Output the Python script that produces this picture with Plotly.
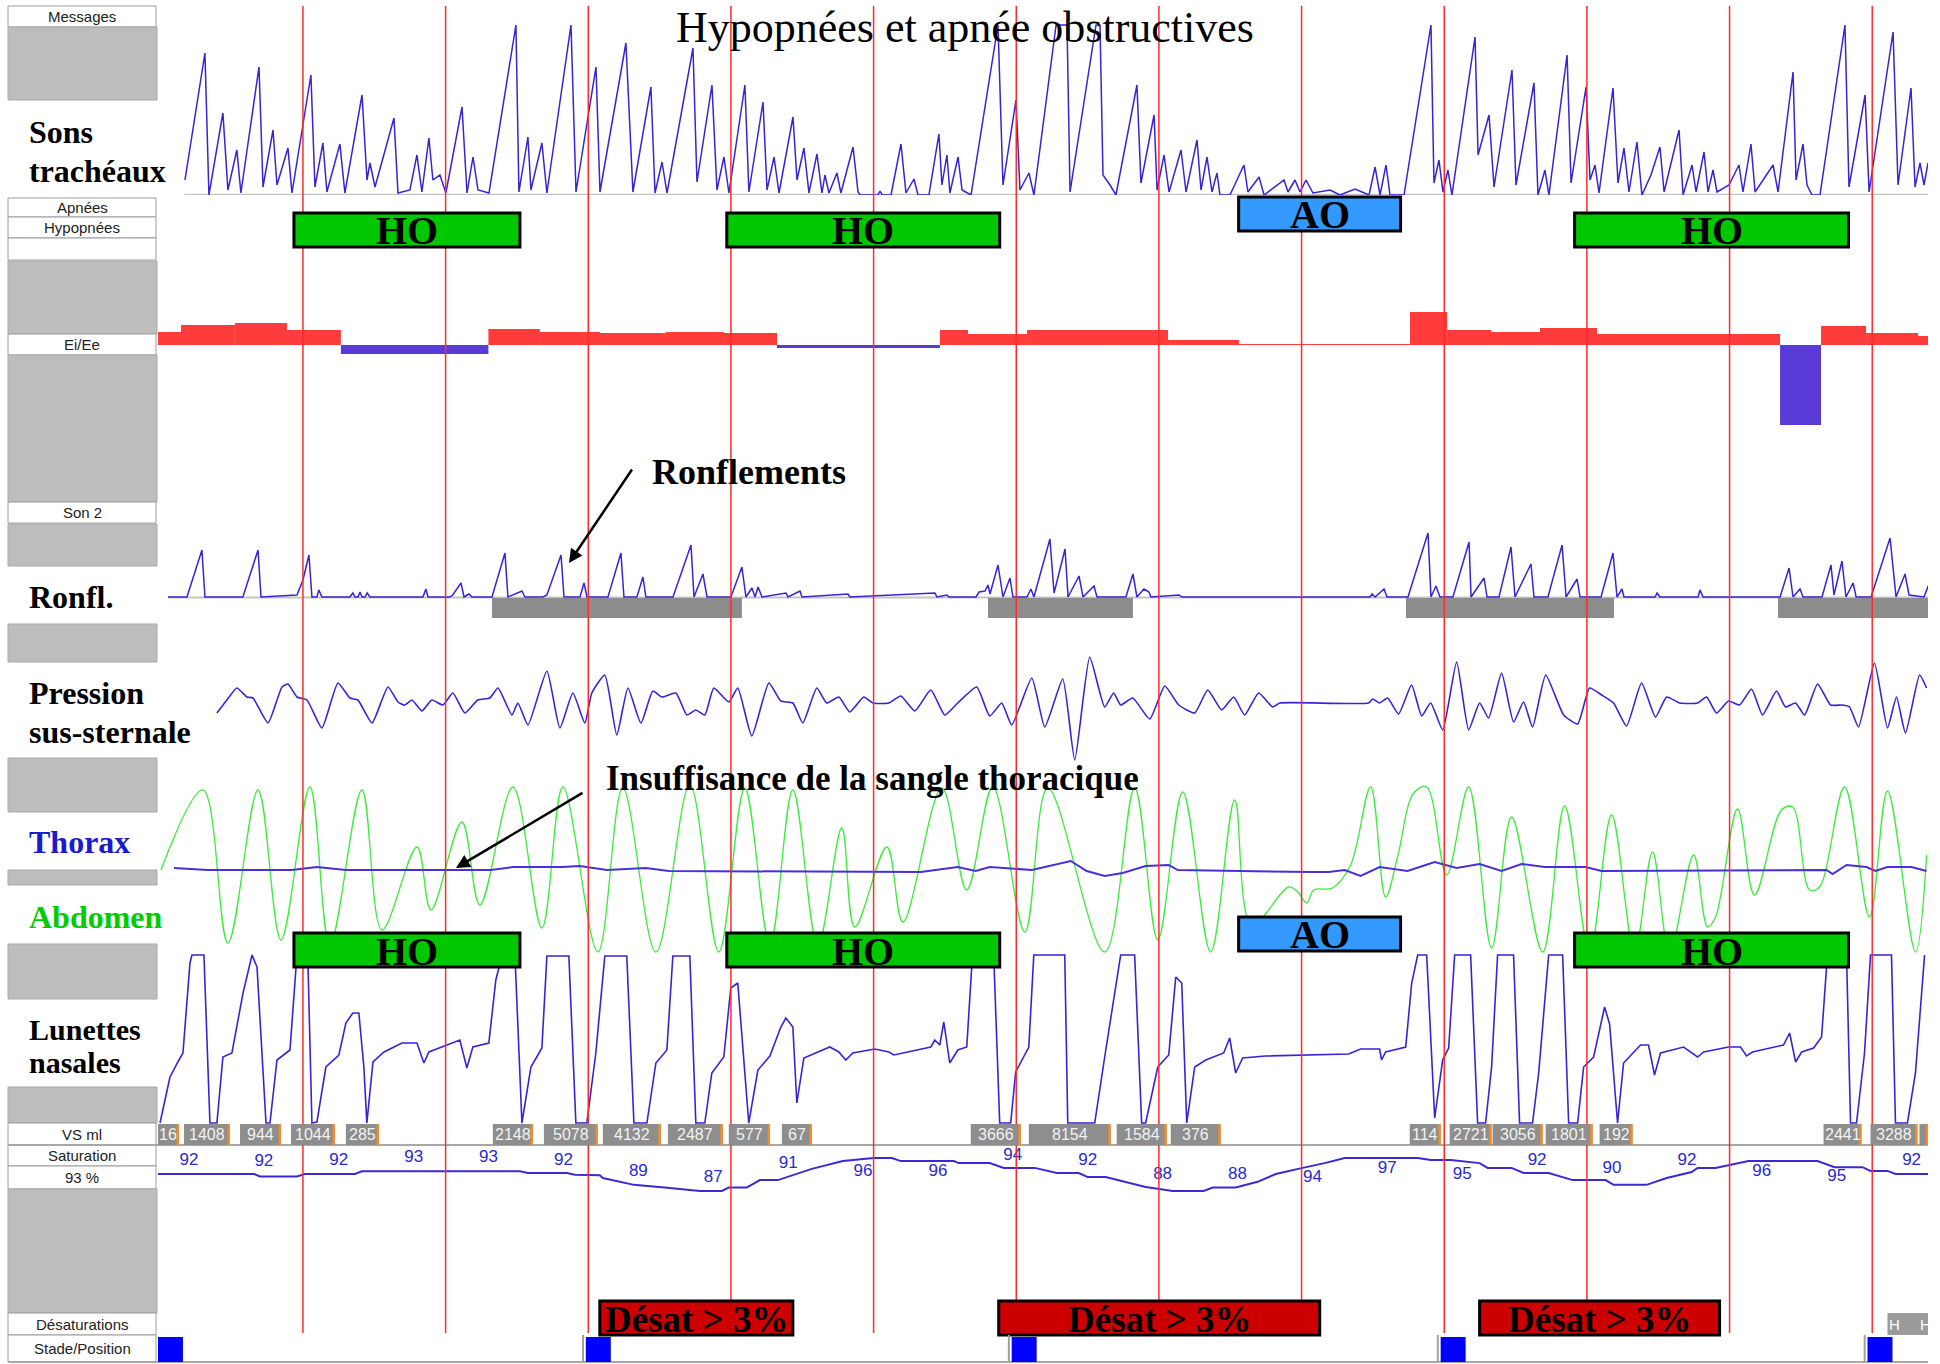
import plotly.graph_objects as go

W, H = 1940, 1364

# ------------------------------------------------------------------ data
# time axis in seconds; red epoch markers every 10 s
epoch_lines = [0, 10, 20, 30, 40, 50, 60, 70, 80, 90, 100, 110]
X_RANGE = [-10.16, 113.91]

# Sons trachéaux (arbitrary amplitude)
sons = [(-8.27,15),(-6.87,142),(-6.59,0),(-5.61,82),(-5.26,5),(-4.63,45),(-4.35,2),(-3.08,128),(-2.80,8),
        (-2.10,65),(-1.82,10),(-1.05,47),(-0.77,2),(0.56,120),(0.84,8),(1.40,52),(1.68,3),(2.59,51),(2.94,2),
        (4.14,100),(4.49,15),(4.70,32),(5.05,8),(6.38,77),(6.66,2),(7.50,5),(7.99,40),(8.34,3),(8.83,57),
        (9.11,15),(9.60,20),(10.02,2),(11.15,88),(11.50,2),(11.92,38),(12.27,5),(13.04,2),(14.93,170),
        (15.14,3),(15.77,58),(15.98,5),(16.75,52),(17.10,2),(18.79,170),(19.14,3),(20.54,128),(20.82,3),
        (22.64,152),(23.13,3),(24.39,108),(24.68,2),(25.17,33),(25.52,2),(27.34,147),(27.62,13),(28.67,110),
        (29.02,5),(29.51,38),(29.86,2),(30.98,110),(31.26,3),(32.25,93),(32.53,5),(33.02,38),(33.37,2),
        (34.35,78),(34.63,15),(35.12,47),(35.47,2),(36.03,41),(36.38,2),(36.59,20),(36.87,2),(37.43,22),
        (37.71,2),(38.56,48),(38.91,3),(39.05,0),(40.30,0),(40.45,4),(40.60,0),(41.22,0),(41.92,51),(42.27,2),
        (42.83,16),(43.11,0),(43.88,0),(44.58,61),(44.79,10),(45.14,40),(45.35,2),(45.92,38),(46.20,5),
        (46.83,0),(48.72,170),(49.07,10),(49.98,95),(50.26,5),(50.89,22),(51.24,0),(52.79,170),(53.56,170),
        (53.77,3),(55.59,170),(55.87,170),(56.08,20),(56.57,10),(56.99,0),(58.46,110),(58.74,12),(59.66,80),
        (59.87,5),(60.36,40),(60.71,3),(61.55,45),(61.90,3),(62.67,55),(62.95,5),(63.37,38),(63.72,3),
        (64.07,22),(64.28,0),(64.98,0),(65.96,30),(66.24,3),(67.02,18),(67.37,0),(68.77,15),(69.05,3),
        (69.54,15),(69.89,3),(70.31,15),(70.80,2),(71.99,5),(72.69,0),(73.75,6),(74.73,0),(75.15,28),
        (75.50,0),(75.92,30),(76.20,0),(77.18,0),(79.07,170),(79.28,12),(79.63,35),(79.91,3),(80.26,25),
        (80.54,0),(82.16,158),(82.37,40),(83.14,80),(83.49,8),(84.75,125),(85.03,10),(86.29,112),(86.57,0),
        (87.06,25),(87.34,0),(88.61,140),(88.89,12),(89.94,108),(90.22,15),(90.57,30),(90.85,2),(91.83,107),
        (92.18,12),(92.60,47),(92.95,3),(93.51,53),(93.86,0),(94.49,20),(95.12,48),(95.41,3),(96.46,65),
        (96.74,0),(97.37,30),(97.65,3),(98.21,43),(98.49,3),(98.84,25),(99.12,3),(99.96,10),(100.66,30),
        (100.94,3),(101.50,51),(101.79,3),(103.05,30),(103.40,3),(104.45,123),(104.66,15),(105.15,51),
        (105.43,10),(105.78,0),(106.34,0),(108.09,170),(108.37,8),(109.50,100),(109.78,3),(111.46,163),
        (111.81,10),(112.72,107),(113.00,8),(113.35,32),(113.63,10),(113.91,32)]

# Ei/Ee (segment start, value); each segment ends where the next begins
ei_ee_start = [-10.16,-8.55,-4.77,-1.12,2.66,13.0,16.61,20.82,25.45,29.51,33.23,44.65,46.62,50.75,
               56.85,60.64,65.61,77.60,80.20,83.28,86.71,90.71,103.54,106.41,109.57,113.21]
ei_ee_val = [13,20,22,15,-9,16,13,12,13,12,-3,15,11,15,15,5,1,33,15,13,17,11,-80,19,12,9]
ei_ee_stop = 113.91

# Ronflements (Son 2)
ronfl = [(-9.46,0),(-8.13,0),(-7.08,47),(-6.87,0),(-4.21,0),(-3.15,47),(-2.94,0),(-0.42,2),(0.0,17),
         (0.42,42),(0.63,0),(0.98,0),(1.12,7),(1.33,0),(3.29,0),(3.50,4),(3.65,0),(3.86,0),(4.00,5),(4.14,0),
         (4.35,0),(4.50,4),(4.70,0),(8.41,0),(8.62,8),(8.76,0),(10.30,0),(10.50,2),(11.08,14),(11.29,0),
         (11.64,3),(11.85,0),(13.25,0),(14.16,44),(14.37,0),(15.35,6),(15.56,0),(16.82,0),(17.10,2),
         (18.09,42),(18.30,0),(19.42,0),(19.70,14),(19.91,0),(21.38,0),(22.29,44),(22.50,0),(23.41,0),
         (23.83,20),(24.04,0),(25.94,0),(27.20,52),(27.41,0),(28.04,23),(28.32,0),(30.00,0),(30.77,30),
         (31.05,0),(31.47,9),(31.69,0),(31.90,10),(32.18,0),(33.86,4),(34.00,0),(34.84,6),(34.98,0),
         (38.20,3),(38.34,0),(44.30,4),(44.44,0),(45.14,2),(45.28,0),(47.18,0),(47.39,5),(47.81,6),
         (48.02,12),(48.16,3),(48.72,32),(49.07,0),(49.56,19),(49.77,0),(50.75,0),(51.03,8),(51.24,0),
         (52.36,58),(52.65,4),(53.42,48),(53.63,0),(54.40,21),(54.68,0),(55.45,11),(55.66,0),(57.69,0),
         (58.18,23),(58.46,0),(58.95,8),(59.30,5),(59.44,0),(61.41,2),(61.62,0),(74.80,0),(74.94,3),
         (75.15,0),(75.78,8),(75.99,0),(77.46,0),(78.86,64),(79.07,0),(79.42,11),(79.70,0),(80.61,0),
         (81.74,55),(81.88,0),(82.79,19),(83.00,0),(83.84,0),(84.68,50),(84.96,0),(86.08,33),(86.29,0),
         (87.27,0),(88.26,52),(88.54,0),(89.31,18),(89.52,0),(90.99,0),(91.83,44),(92.11,0),(92.46,8),
         (92.60,0),(94.78,0),(94.92,4),(95.12,0),(97.79,0),(97.93,7),(98.14,0),(103.54,0),(104.17,29),
         (104.45,0),(104.94,8),(105.15,0),(106.48,0),(107.11,32),(107.32,2),(107.88,36),(108.16,0),
         (108.66,14),(108.87,0),(109.92,0),(111.25,59),(111.67,0),(112.30,23),(112.58,2),(113.63,0),
         (113.98,13)]

# snoring episodes
snore_start = [13.25, 48.02, 77.32, 103.40]
snore_end = [30.77, 58.18, 91.90, 113.91]

# Pression sus-sternale
pression = [(-6.03,-10),(-5.33,3),(-4.63,15),(-3.92,6),(-3.50,5),(-2.45,-20),(-1.47,16),(-1.05,19),
            (-0.42,6),(0.28,3),(1.33,-25),(2.45,20),(3.29,5),(3.85,3),(4.84,-20),(5.96,16),(6.66,1),
            (7.15,-2),(7.64,3),(8.34,-8),(9.04,3),(9.81,-2),(10.51,10),(11.35,-10),(12.26,3),(13.10,5),
            (13.67,15),(14.65,-12),(15.07,0),(15.77,-22),(17.10,32),(18.01,-25),(18.92,10),(19.76,-20),
            (20.25,10),(21.16,28),(22.00,-32),(22.78,15),(23.69,-20),(24.53,12),(25.16,6),(26.14,10),
            (26.91,-12),(27.54,-7),(28.17,-12),(28.80,15),(29.85,1),(30.48,15),(31.46,-33),(32.66,20),
            (33.50,2),(34.34,0),(35.04,-20),(36.02,15),(36.72,0),(37.56,6),(38.33,-9),(39.31,6),(39.94,0),
            (41.07,0),(41.91,7),(42.89,-8),(44.01,13),(44.99,-12),(45.90,0),(47.23,16),(48.14,-13),
            (48.98,0),(49.68,-22),(51.09,25),(52.00,-24),(53.26,24),(54.10,-57),(55.15,46),(56.20,-4),
            (56.83,10),(57.32,-2),(58.16,5),(59.36,-16),(60.41,17),(61.39,-2),(62.51,-10),(63.42,13),
            (64.40,-7),(65.24,6),(66.01,-12),(66.99,10),(67.97,-4),(68.47,0),(74.70,0),(74.98,4),(75.47,0),
            (76.03,5),(76.80,-11),(77.71,18),(78.42,-13),(79.05,0),(79.89,-27),(80.87,41),(81.71,-27),
            (82.48,0),(83.11,-15),(84.02,30),(84.86,-19),(85.56,1),(86.19,-24),(87.11,28),(88.37,-12),
            (89.35,-21),(90.19,15),(91.03,8),(91.87,0),(92.78,-23),(93.83,20),(94.81,-14),(95.59,6),
            (96.50,0),(97.76,0),(98.39,6),(99.09,-10),(99.93,2),(100.70,-2),(101.54,14),(102.31,-12),
            (103.29,12),(103.92,-4),(104.62,0),(105.26,-12),(106.17,19),(107.08,-2),(107.92,-2),
            (108.41,-4),(109.04,-24),(110.16,40),(111.07,-25),(111.70,6),(112.33,-30),(113.32,28),(113.81,15)]

# Thorax (belt)
thorax = [(-9.04,2),(-6.66,0),(-0.77,0),(0.98,3),(3.01,0),(13.17,0),(14.72,3),(18.15,3),(19.41,4),
          (21.30,0),(24.04,2),(25.65,-1),(43.31,-2),(45.90,3),(47.16,-1),(48.14,3),(51.09,0),(52.98,6),
          (53.82,9),(54.94,-1),(56.20,-6),(57.46,-3),(59.07,4),(60.69,5),(61.32,0),(70.71,-2),(71.90,-2),
          (73.02,0),(74.14,-6),(75.47,3),(77.43,-1),(79.33,8),(80.87,2),(82.48,6),(84.02,-1),(85.42,6),
          (87.04,3),(89.91,3),(91.03,-1),(106.80,0),(107.22,-4),(108.20,5),(109.60,3),(110.23,-1),
          (111.07,3),(112.75,3),(113.81,-1)]

# Abdomen (belt)
abdomen = [(-9.95,0),(-7.01,80),(-5.26,-73),(-3.15,80),(-1.54,-70),(0.49,83),(1.89,-75),(4.13,80),
           (5.54,-60),(7.99,23),(8.97,-40),(11.14,48),(12.40,-35),(14.72,83),(16.75,-58),(18.22,83),
           (20.67,-82),(22.42,82),(24.74,-82),(27.12,85),(29.15,-82),(30.97,82),(32.73,-75),(34.34,80),
           (36.09,-75),(37.77,42),(38.68,-57),(40.93,23),(42.05,-52),(44.78,82),(46.53,-20),(48.35,83),
           (50.60,-62),(52.21,82),(56.20,-82),(58.30,82),(59.92,-70),(61.67,78),(63.63,-82),(65.31,70),
           (66.50,-55),(69.10,-17),(69.73,-22),(70.36,-33),(70.85,-20),(72.18,-18),(73.44,5),(74.84,83),
           (75.89,-27),(76.73,13),(77.86,77),(78.77,83),(80.17,-5),(81.71,83),(83.32,-78),(84.72,53),
           (86.90,-82),(88.44,64),(90.19,-82),(91.73,55),(93.34,-82),(94.60,18),(95.80,-82),(97.48,15),
           (98.46,-57),(99.02,-47),(100.56,61),(101.75,-25),(103.64,60),(104.42,63),(105.61,-20),
           (106.31,-17),(108.06,83),(109.81,-47),(111.07,79),(113.03,-82),(113.81,15)]

# Lunettes nasales (clipped flow signal)
lunettes = [(-10.02,-84),(-9.32,-38),(-8.69,-21),(-8.41,-14),(-7.92,76),(-7.78,84),(-6.94,84),(-6.52,-84),
            (-6.03,-84),(-5.61,-18),(-4.98,-14),(-4.20,46),(-3.57,84),(-3.22,72),(-2.59,-84),(-2.31,-84),
            (-1.82,-21),(-0.91,-11),(-0.42,84),(0.35,76),(0.63,-84),(0.98,-83),(1.61,-28),(2.52,-16),
            (3.01,16),(3.50,26),(3.92,26),(4.27,-28),(4.48,-84),(4.91,-23),(5.68,-13),(6.94,-4),(7.99,-4),
            (8.48,-24),(8.83,-13),(10.65,-3),(11.00,-1),(11.49,-29),(11.91,-8),(13.03,-4),(13.52,59),
            (13.88,79),(14.23,84),(14.86,84),(15.35,-84),(15.98,-28),(16.75,-9),(17.10,83),(18.64,83),
            (19.13,-84),(19.90,-84),(20.53,-14),(21.16,83),(22.70,83),(23.20,-84),(24.11,-84),(24.74,-24),
            (25.51,-11),(25.93,83),(27.12,83),(27.54,-84),(28.17,-84),(28.66,-34),(29.50,-18),(29.99,51),
            (30.48,56),(31.25,-84),(31.89,-31),(32.73,-17),(33.50,12),(33.85,21),(34.34,12),(34.62,-64),
            (35.11,-19),(36.93,-8),(37.56,-13),(38.05,-21),(38.54,-14),(40.08,-10),(41.07,-13),(41.42,-16),
            (44.01,-8),(44.29,-1),(44.64,-6),(44.92,17),(45.34,-24),(45.90,-11),(46.53,-8),(46.88,72),
            (47.16,84),(48.42,84),(48.84,-84),(49.61,-84),(49.96,-33),(50.88,-8),(51.23,84),(53.40,84),
            (53.61,-84),(55.50,-84),(56.20,-18),(57.32,84),(58.30,84),(58.79,-84),(59.07,-84),(59.92,-28),
            (60.69,-16),(61.18,62),(61.60,56),(61.95,-84),(62.51,-28),(63.28,-21),(64.54,-14),(64.96,1),
            (65.38,-34),(65.87,-19),(67.48,-17),(69.87,-16),(73.30,-15),(74.14,-10),(75.47,-10),(75.61,-21),
            (75.89,-13),(77.30,-8),(77.72,56),(78.14,84),(78.77,84),(79.33,-79),(79.89,-21),(80.31,-9),
            (80.73,84),(81.85,84),(82.34,-84),(82.90,-84),(83.32,-28),(83.74,84),(84.86,84),(85.28,-84),
            (86.19,-84),(86.62,-34),(87.32,84),(88.30,84),(88.72,-84),(89.35,-84),(89.77,-28),(90.47,-18),
            (91.24,32),(91.59,15),(92.15,-84),(92.57,-24),(93.76,-6),(94.32,-6),(94.74,-36),(95.16,-14),
            (96.78,-8),(97.76,-18),(98.18,-13),(99.93,-8),(100.77,-8),(101.19,-17),(101.61,-13),(103.78,-6),
            (104.21,6),(104.63,-23),(105.05,-13),(105.89,-9),(106.45,2),(106.80,72),(107.08,84),(108.20,84),
            (108.48,-84),(108.90,-84),(109.46,-14),(109.88,84),(111.35,84),(111.63,-84),(112.47,-84),
            (113.03,-34),(113.45,39),(113.67,84)]

# SpO2 (%)
saturation = [(-10.16,92),(-3.43,92),(-3.01,91.3),(-0.42,91.3),(0.14,92),(3.64,92),(4.13,92.8),(15.21,92.8),
              (15.77,92.3),(18.50,92.3),(19.06,91.8),(20.81,91.6),(21.02,90.8),(23.20,88.8),(25.72,87.9),
              (27.82,87),(29.36,87),(29.85,88),(31.11,88),(32.03,90.2),(33.29,90.2),(34.55,92),(35.67,93.5),
              (37.84,95.8),(40.01,96.7),(41.28,96.7),(41.91,95.8),(45.62,95.8),(45.97,95.2),(48.14,95.2),
              (49.12,93.8),(51.30,93.8),(52.84,92.3),(54.38,92.3),(55.01,91.1),(56.27,91.1),(59.07,88.2),
              (60.97,87),(63.14,87),(63.77,88),(65.38,88),(66.92,89.7),(68.19,92),(70.08,93.8),(71.62,95.2),
              (73.02,96.7),(78.14,96.7),(79.05,96.1),(80.45,96.1),(82.48,95.2),(83.04,93.8),(84.72,93.8),
              (85.56,92.3),(87.32,92.3),(89.00,90.2),(91.31,90.2),(91.87,88.8),(94.18,88.8),(95.59,90.8),
              (97.34,92.6),(97.76,93.8),(99.02,93.8),(99.93,94.6),(101.33,95.8),(106.17,95.8),(107.36,94),
              (109.32,94),(109.88,92.9),(111.07,92.9),(111.63,92),(113.98,92)]
sat_label_t = [-7.99,-2.74,2.51,7.76,13.01,18.26,23.51,28.76,34.01,39.26,44.51,49.76,55.01,60.26,65.51,
               70.76,76.01,81.26,86.51,91.76,97.01,102.26,107.51,112.76]
sat_label_val = [92,92,92,93,93,92,89,87,91,96,96,94,92,88,88,94,97,95,92,90,92,96,95,92]
sat_label_y = [95.8,95.5,95.8,96.7,96.7,95.8,92.6,90.8,94.9,92.6,92.6,97.3,95.8,91.7,91.7,90.8,93.5,91.7,
               95.8,93.5,95.8,92.6,91.1,95.8]

# VS ml (breath volumes)
vs_start = [-10.16,-8.34,-4.41,-0.84,3.01,13.31,16.89,21.02,25.58,29.85,33.57,46.81,50.88,57.04,60.83,
            77.58,80.38,83.39,87.11,90.89,106.59,109.88,113.31]
vs_end = [-8.69,-5.12,-1.54,2.24,5.33,16.12,20.67,25.09,29.43,32.73,35.67,50.32,56.62,60.55,64.33,
          79.75,83.32,86.90,90.40,93.20,109.25,113.17,113.91]
vs_label = ["16","1408","944","1044","285","2148","5078","4132","2487","577","67","3666","8154","1584",
            "376","114","2721","3056","1801","192","2441","3288",""]

# scored events
event_type = ["HO", "HO", "AO", "HO"]
event_start = [-0.63, 29.71, 65.59, 89.14]
event_end = [15.21, 48.84, 76.94, 108.34]
desat_start = [20.81, 48.77, 82.48]
desat_end = [34.34, 71.27, 99.30]
stade_t = [-10.16, 19.83, 49.68, 79.75, 109.67]
stade_len = 1.75

# ------------------------------------------------------------------ helpers
def py(p):
    return 1 - p / H

def px(p):
    return p / W

SERIF = "Liberation Serif"
SANS = "Liberation Sans"
SIG = "#3A22D8"

fig = go.Figure()

def line_trace(pts, axis, color, width=1.6, shape="linear", smoothing=None):
    kw = dict(shape=shape, color=color, width=width)
    if smoothing is not None:
        kw["smoothing"] = smoothing
    fig.add_trace(go.Scatter(x=[p[0] for p in pts], y=[p[1] for p in pts], mode="lines",
                             line=kw, yaxis=axis, hoverinfo="skip"))

# Ei/Ee bars
ends = ei_ee_start[1:] + [ei_ee_stop]
fig.add_trace(go.Bar(x=[(a + b) / 2 for a, b in zip(ei_ee_start, ends)],
                     y=ei_ee_val, width=[b - a for a, b in zip(ei_ee_start, ends)],
                     marker=dict(color=["#FF3B3B" if v > 0 else "#5A3AD6" for v in ei_ee_val], line_width=0),
                     yaxis="y2", hoverinfo="skip"))
# snoring episodes (gray bars under the snore trace)
fig.add_trace(go.Bar(x=[(a + b) / 2 for a, b in zip(snore_start, snore_end)],
                     y=[-20] * len(snore_start), base=[-1] * len(snore_start),
                     width=[b - a for a, b in zip(snore_start, snore_end)],
                     marker=dict(color="#8C8C8C", line_width=0), yaxis="y3", hoverinfo="skip"))

line_trace(sons, "y", SIG, 1.5)
line_trace(ronfl, "y3", SIG, 1.5)
line_trace(pression, "y4", SIG, 1.6, "spline", 0.5)
line_trace(abdomen, "y5", "#3CEB3C", 1.3, "spline", 1.0)
line_trace(thorax, "y5", "#4A2ED8", 2.0)
line_trace(lunettes, "y6", SIG, 1.6)
line_trace(saturation, "y7", "#3A2AD6", 2.0)
fig.add_trace(go.Scatter(x=sat_label_t, y=sat_label_y, mode="text", text=[str(v) for v in sat_label_val],
                         textfont=dict(family=SANS, size=17, color="#2A2AD0"), yaxis="y7",
                         cliponaxis=False, hoverinfo="skip"))

shapes = []
ann = []

# left panel
panel = [("label", "Messages", 6, 27), ("gray", "", 27, 100), ("label", "Apnées", 198, 217),
         ("label", "Hypopnées", 217, 238), ("label", "", 238, 260), ("gray", "", 261, 334),
         ("label", "Ei/Ee", 334, 355), ("gray", "", 355, 502), ("label", "Son 2", 502, 523),
         ("gray", "", 524, 566), ("gray", "", 624, 662), ("gray", "", 758, 812), ("gray", "", 870, 885),
         ("gray", "", 944, 999), ("gray", "", 1087, 1123), ("label", "VS ml", 1123, 1145),
         ("label", "Saturation", 1145, 1166), ("label", "93 %", 1166, 1189), ("gray", "", 1189, 1313),
         ("label", "Désaturations", 1313, 1335), ("label", "Stade/Position", 1335, 1362)]
for kind, lab, top, bot in panel:
    if kind == "gray":
        shapes.append(dict(type="rect", xref="paper", yref="paper", x0=px(8), x1=px(157), y0=py(bot), y1=py(top),
                           fillcolor="#BDBDBD", line=dict(color="#A9A9A9", width=1), layer="above"))
    else:
        shapes.append(dict(type="rect", xref="paper", yref="paper", x0=px(8), x1=px(156), y0=py(bot), y1=py(top),
                           fillcolor="white", line=dict(color="#9C9C9C", width=1), layer="above"))
        if lab:
            ann.append(dict(x=px(82), y=py((top + bot) / 2), xref="paper", yref="paper", text=lab,
                            showarrow=False, font=dict(family=SANS, size=15, color="#222222")))

# big channel labels
big = [("Sons", 132, "black", 32), ("trachéaux", 171, "black", 32), ("Ronfl.", 597, "black", 32),
       ("Pression", 693, "black", 32), ("sus-sternale", 732, "black", 32), ("Thorax", 842, "#1A1AD0", 32),
       ("Abdomen", 917, "#00CC00", 32), ("Lunettes", 1029, "black", 30), ("nasales", 1062, "black", 30)]
for txt, yy, col, fs in big:
    ann.append(dict(x=px(27), y=py(yy), xref="paper", yref="paper", text="<b>%s</b>" % txt, showarrow=False,
                    xanchor="left", yanchor="middle", font=dict(family=SERIF, size=fs, color=col)))

# baselines / separators
shapes.append(dict(type="line", xref="x", yref="y", x0=-8.3, x1=X_RANGE[1], y0=0, y1=0,
                   line=dict(color="#C4C4C4", width=2.5), layer="below"))
shapes.append(dict(type="line", xref="x", yref="y3", x0=-9.46, x1=X_RANGE[1], y0=-0.5, y1=-0.5,
                   line=dict(color="#C4C4C4", width=2), layer="below"))
for yy in (1145, 1362):
    shapes.append(dict(type="line", xref="paper", yref="paper", x0=px(8), x1=px(1928), y0=py(yy), y1=py(yy),
                       line=dict(color="#A8A8A8", width=2), layer="above"))

# epoch red lines
for t in epoch_lines:
    shapes.append(dict(type="line", xref="x", yref="paper", x0=t, x1=t, y0=py(1333), y1=py(6),
                       line=dict(color="#FF2A2A", width=1.5), layer="above"))

# VS ml boxes
for a, b, lab in zip(vs_start, vs_end, vs_label):
    shapes.append(dict(type="rect", xref="x", yref="paper", x0=a, x1=b, y0=py(1145), y1=py(1124),
                       fillcolor="#8E8E8E", line_width=0, layer="above"))
    shapes.append(dict(type="rect", xref="x", yref="paper", x0=b - 0.16, x1=b, y0=py(1145), y1=py(1124),
                       fillcolor="#FF8A1E", line_width=0, layer="above"))
    if lab:
        ann.append(dict(x=(a + b) / 2, y=py(1134.5), xref="x", yref="paper", text=lab, showarrow=False,
                        font=dict(family=SANS, size=16, color="#F2F2F2")))

# scored events (two rows)
for typ, a, b in zip(event_type, event_start, event_end):
    col = "#00C800" if typ == "HO" else "#3399FF"
    rows = [(213, 247), (933, 967)] if typ == "HO" else [(197, 231), (917, 951)]
    for top, bot in rows:
        shapes.append(dict(type="rect", xref="x", yref="paper", x0=a, x1=b, y0=py(bot), y1=py(top),
                           fillcolor=col, line=dict(color="black", width=3), layer="above"))
        ann.append(dict(x=(a + b) / 2, y=py((top + bot) / 2 + 1), xref="x", yref="paper",
                        text="<b>%s</b>" % typ, showarrow=False,
                        font=dict(family=SERIF, size=40, color="black")))

# desaturations
for a, b in zip(desat_start, desat_end):
    shapes.append(dict(type="rect", xref="x", yref="paper", x0=a, x1=b, y0=py(1335), y1=py(1301),
                       fillcolor="#CC0000", line=dict(color="black", width=3), layer="above"))
    ann.append(dict(x=(a + b) / 2, y=py(1319), xref="x", yref="paper", text="<b>Désat &gt; 3%</b>",
                    showarrow=False, font=dict(family=SERIF, size=37, color="black")))

# small "H" marker box
shapes.append(dict(type="rect", xref="x", yref="paper", x0=111.07, x1=113.91, y0=py(1335), y1=py(1313),
                   fillcolor="#9A9A9A", line_width=0, layer="above"))
for hx in (111.55, 113.75):
    ann.append(dict(x=hx, y=py(1324), xref="x", yref="paper", text="H", showarrow=False,
                    font=dict(family=SANS, size=15, color="white")))

# sleep stage / position markers
for i, t in enumerate(stade_t):
    shapes.append(dict(type="rect", xref="x", yref="paper", x0=t, x1=t + stade_len, y0=py(1362), y1=py(1337),
                       fillcolor="#0000FF", line_width=0, layer="above"))
    if i > 0:
        shapes.append(dict(type="line", xref="x", yref="paper", x0=t - 0.2, x1=t - 0.2, y0=py(1362),
                           y1=py(1335), line=dict(color="#A0A0A0", width=2), layer="above"))

# title & call-outs
ann.append(dict(x=px(965), y=py(28), xref="paper", yref="paper", text="Hypopnées et apnée obstructives",
                showarrow=False, font=dict(family=SERIF, size=44, color="black")))
ann.append(dict(x=px(650), y=py(472), xref="paper", yref="paper", text="<b>Ronflements</b>", showarrow=False,
                xanchor="left", font=dict(family=SERIF, size=36, color="black")))
ann.append(dict(x=px(604), y=py(778), xref="paper", yref="paper",
                text="<b>Insuffisance de la sangle thoracique</b>", showarrow=False, xanchor="left",
                font=dict(family=SERIF, size=35, color="black")))
ann.append(dict(x=px(569), y=py(563), xref="paper", yref="paper", text="", showarrow=True, ax=64, ay=-95,
                arrowhead=2, arrowsize=1.1, arrowwidth=2.5, arrowcolor="black"))
ann.append(dict(x=px(456), y=py(868), xref="paper", yref="paper", text="", showarrow=True, ax=128, ay=-76,
                arrowhead=2, arrowsize=1.1, arrowwidth=2.5, arrowcolor="black"))

for a in ann:
    a.setdefault("xanchor", "center")
    a.setdefault("yanchor", "middle")

layout = dict(width=W, height=H, margin=dict(l=0, r=0, t=0, b=0), showlegend=False,
              paper_bgcolor="white", plot_bgcolor="rgba(0,0,0,0)", barmode="overlay",
              shapes=shapes, annotations=ann,
              xaxis=dict(domain=[px(158), px(1928)], range=X_RANGE, visible=False, anchor="y", fixedrange=True))
axes = {"yaxis": (0, 195, [0, 195]), "yaxis2": (290, 440, [-95, 55]), "yaxis3": (520, 620, [-23, 77]),
        "yaxis4": (640, 780, [-77, 63]), "yaxis5": (780, 960, [-90, 90]), "yaxis6": (950, 1130, [-91, 89]),
        "yaxis7": (1150, 1200, [84.35, 99.06])}
for name, (top, bot, rng) in axes.items():
    layout[name] = dict(domain=[py(bot), py(top)], range=rng, visible=False, anchor="x", fixedrange=True)
fig.update_layout(**layout)

fig.write_html("out.html", config={"displayModeBar": False},
               post_script="document.body.style.margin='0px';document.body.style.overflow='hidden';")
